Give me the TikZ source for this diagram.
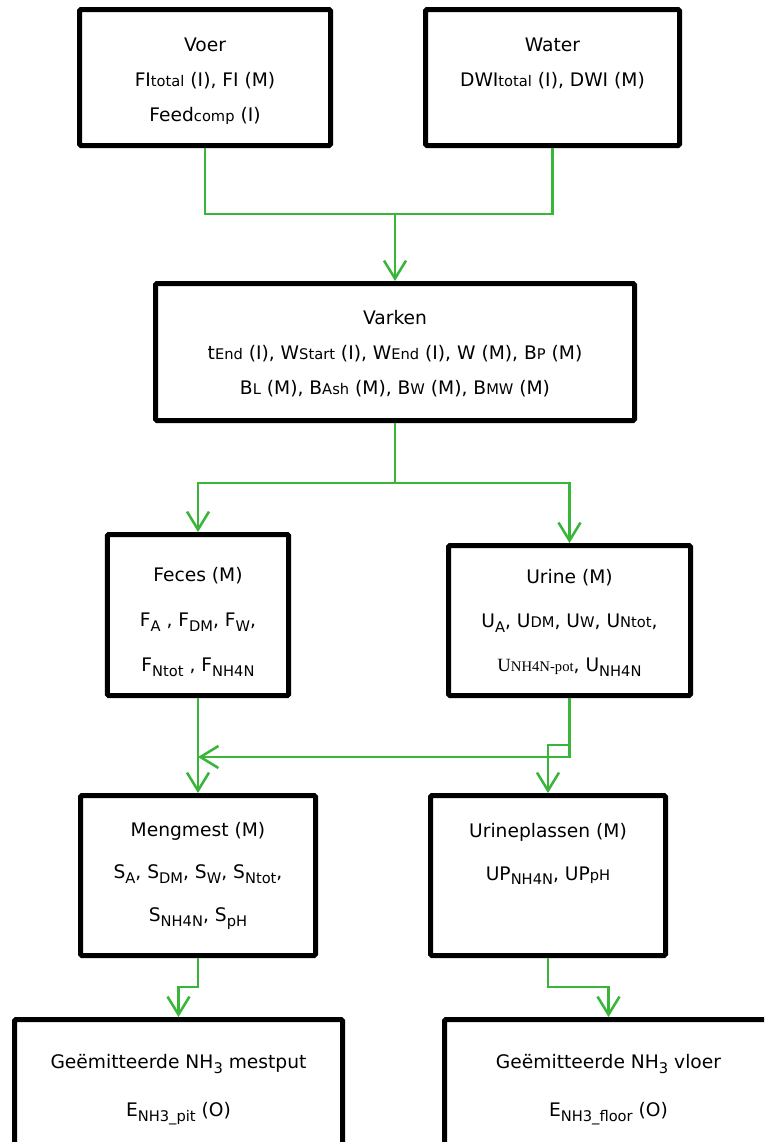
\documentclass[tikz,border=0pt]{standalone}
\usepackage{fontspec}
\setmainfont{DejaVu Sans}
\newfontfamily\serifU{Liberation Serif}
\usetikzlibrary{arrows.meta}
\definecolor{flow}{RGB}{57,181,57}
\newcommand\smsub[1]{{\fontsize{11}{11}\selectfont #1}}
\newcommand\lowsub[1]{\raisebox{-0.45ex}{\fontsize{11}{11}\selectfont #1}}
\begin{document}
\begin{tikzpicture}[x=0.75pt,y=-0.75pt,
  box/.style={draw=black, line width=3.75pt, rounded corners=1pt, align=center,
    inner sep=0pt, outer sep=1.875pt},
  flowline/.style={draw=flow, line width=1.9pt},
  flowarrow/.style={flowline, -{Straight Barb[length=13.5pt,width=16.5pt]}}]
\useasboundingbox (0,0) rectangle (764,1142);
\clip (0,0) rectangle (764,1142);

\node[box, minimum width=188.25pt, minimum height=102pt,
  font=\fontsize{14}{26.25}\selectfont] (voer) at (205,77.5)
  {\rule{0pt}{16pt}Voer\\FI\smsub{total} (I), FI (M)\\Feed\smsub{comp} (I)};
\node[box, minimum width=190.5pt, minimum height=102pt,
  font=\fontsize{14}{26.25}\selectfont] (water) at (552.5,77.5)
  {\rule{0pt}{16pt}Water\\DWI\smsub{total} (I), DWI (M)\\\vphantom{(I)}};
\node[box, minimum width=359.25pt, minimum height=102.75pt,
  font=\fontsize{14}{26}\selectfont] (varken) at (395,352)
  {\rule{0pt}{13pt}Varken\\t\smsub{End} (I), W\smsub{Start} (I), W\smsub{End} (I), W (M), B\smsub{P} (M)\\
   B\smsub{L} (M), B\smsub{Ash} (M), B\smsub{W} (M), B\smsub{MW} (M)};
\node[box, minimum width=136.1pt, minimum height=120.75pt,
  font=\fontsize{14}{33.75}\selectfont] (feces) at (198,615)
  {\rule{0pt}{21pt}Feces (M)\\F\lowsub{A} , F\lowsub{DM}, F\lowsub{W},\\F\lowsub{Ntot} , F\lowsub{NH4N}};
\node[box, minimum width=181.5pt, minimum height=112.5pt,
  font=\fontsize{14}{33}\selectfont] (urine) at (569.5,620.5)
  {\rule{0pt}{14pt}Urine (M)\\U\lowsub{A}, U\smsub{DM}, U\smsub{W}, U\smsub{Ntot},\\
   {\serifU U\smsub{NH4N-pot}}, U\lowsub{NH4N}};
\node[box, minimum width=176.25pt, minimum height=120pt,
  font=\fontsize{14}{32}\selectfont] (mengmest) at (198,875.5)
  {Mengmest (M)\\S\lowsub{A}, S\lowsub{DM}, S\lowsub{W}, S\lowsub{Ntot},\\S\lowsub{NH4N}, S\lowsub{pH}};
\node[box, minimum width=176.25pt, minimum height=120pt,
  font=\fontsize{14}{32}\selectfont] (uplas) at (548,875.5)
  {Urineplassen (M)\\UP\lowsub{NH4N}, UP\smsub{pH}\\\vphantom{S\lowsub{NH4N}, (}};
\node[box, minimum width=246pt, minimum height=103.5pt,
  font=\fontsize{14}{36}\selectfont] (eleft) at (178.5,1088.5)
  {\rule{0pt}{12pt}Geëmitteerde NH\lowsub{3} mestput\\E\lowsub{NH3\_pit} (O)};
\node[box, minimum width=246pt, minimum height=103.5pt,
  font=\fontsize{14}{36}\selectfont] (eright) at (608.5,1088.5)
  {\rule{0pt}{12pt}Geëmitteerde NH\lowsub{3} vloer\\E\lowsub{NH3\_floor} (O)};

\coordinate (m1) at (395,214);
\draw[flowline] (voer.south) |- (m1);
\draw[flowline] (water.south) |- (m1);
\draw[flowarrow] (m1) -- (varken.north);

\coordinate (s1) at (395,483);
\draw[flowline] (varken.south) -- (s1);
\draw[flowarrow] (s1) -| (feces.north);
\draw[flowarrow] (s1) -| (urine.north);

\draw[flowarrow] (feces.south) -- (mengmest.north);
\coordinate (j1) at (198,757);
\draw[flowarrow] (urine.south) |- (j1);
\coordinate (b1) at (569.5,745);
\draw[flowarrow] (b1) -| (uplas.north);

\coordinate (k1) at (198,987);
\draw[flowarrow] (mengmest.south) -- (k1) -| (eleft.north);
\coordinate (k2) at (548,987);
\draw[flowarrow] (uplas.south) -- (k2) -| (eright.north);
\end{tikzpicture}
\end{document}
